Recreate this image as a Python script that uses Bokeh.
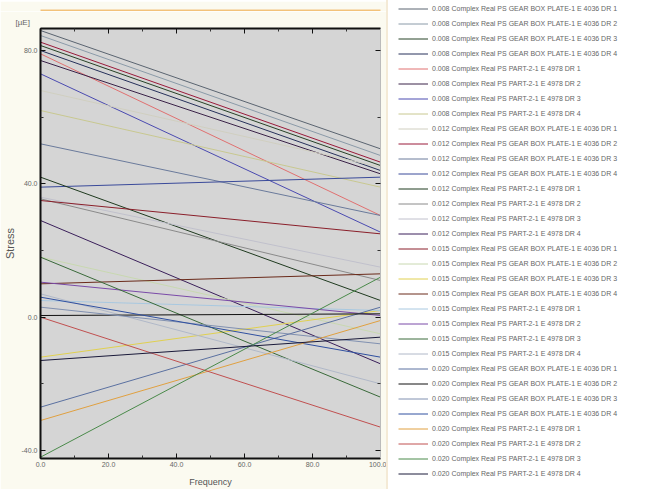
from bokeh.plotting import figure
from bokeh.layouts import row, column
from bokeh.models import (Legend, LegendItem, LinearAxis, Range1d, FixedTicker,
                          NumeralTickFormatter)
from bokeh.embed import file_html
from bokeh.resources import INLINE

# ---- data ----
freq = [0.0, 100.0]
times = ["0.008", "0.012", "0.015", "0.020"]
parts = ["GEAR BOX PLATE-1 E 4036", "PART-2-1 E 4978"]
drs = ["1", "2", "3", "4"]

stress_start = [86.0, 84.5, 81.5, 80.0, 79.0, 77.0, 73.0, 62.0,
                68.0, 82.5, 52.0, 39.0, 42.0, 35.5, 36.0, 29.0,
                35.0, 18.0, -12.0, 10.0, 5.0, 10.5, 18.0, 7.0,
                -27.0, 0.5, 3.0, 6.0, -31.0, 0.0, -42.0, -13.0]
stress_end = [50.5, 48.5, 45.5, 44.0, 30.5, 43.0, 25.5, 39.0,
              45.0, 46.5, 30.5, 42.0, 5.0, 11.0, 15.0, -14.0,
              25.0, -5.0, 2.0, 13.0, 2.0, 0.5, -24.0, -20.0,
              3.0, 1.0, -8.0, -12.0, -1.0, -33.0, 12.0, -6.0]
colors = ["#5a6470", "#8a9aa8", "#274227", "#26305a", "#e07070", "#3a2248", "#4a4ab0", "#c8c890",
          "#d0cfc0", "#9a1a3a", "#6a7a9b", "#3a4a9a", "#1f3a1f", "#8a8a8a", "#c0c0cc", "#3a1f5a",
          "#8a1f2a", "#c8d8b0", "#e0d050", "#6a2a1a", "#a8c8e0", "#7a4aa8", "#3a6a3a", "#b0b8c8",
          "#5a70a0", "#101010", "#8090b0", "#3050a0", "#e0a040", "#c05050", "#4a8a4a", "#1a1a3a"]

names = []
for t in times:
    for part in parts:
        for d in drs:
            names.append(f"{t} Complex Real PS {part} DR {d}")

x_ticks = [0, 20, 40, 60, 80, 100]
x_minor = [10, 30, 50, 70, 90]
y_ticks = [-40, 0, 40, 80]
y_minor = [-20, 20, 60]

# ---- orange window edge strip above the chart ----
strip = figure(width=386, height=11, output_backend="svg", toolbar_location=None,
               x_axis_location=None, y_axis_location=None,
               min_border_left=5, min_border_right=0, min_border_top=8, min_border_bottom=0,
               background_fill_color="#f2c27a", border_fill_color="#fbfaf0",
               outline_line_color=None)
strip.grid.visible = False

# ---- chart ----
p = figure(width=386, height=478, output_backend="svg", toolbar_location=None,
           x_range=Range1d(0, 100), y_range=Range1d(-42.4, 86.6),
           min_border_left=38, min_border_right=6, min_border_top=17, min_border_bottom=30,
           background_fill_color="#d5d5d5", border_fill_color="#fbfaf0",
           outline_line_color="#222222", outline_line_width=1)
p.grid.visible = False

for i in range(len(names)):
    p.line(freq, [stress_start[i], stress_end[i]], line_color=colors[i], line_width=1)

def style_axis(ax, ticks, minor, show_labels=True, width=2):
    ax.ticker = FixedTicker(ticks=ticks, minor_ticks=minor)
    ax.formatter = NumeralTickFormatter(format="0.0")
    ax.major_tick_in = 5
    ax.major_tick_out = 0
    ax.minor_tick_in = 3
    ax.minor_tick_out = 0
    ax.axis_line_color = "#111111"
    ax.axis_line_width = width
    ax.major_tick_line_color = "#111111"
    ax.minor_tick_line_color = "#333333"
    ax.major_label_text_font = "Liberation Sans"
    ax.major_label_text_font_size = "7px" if show_labels else "0px"
    ax.major_label_text_color = "#666666" if show_labels else None
    ax.major_label_standoff = 3 if show_labels else 0

style_axis(p.xaxis[0], x_ticks, x_minor)
style_axis(p.yaxis[0], y_ticks, y_minor)
p.xaxis[0].axis_label = "Frequency"
p.xaxis[0].axis_label_text_font = "Liberation Sans"
p.xaxis[0].axis_label_text_font_size = "9px"
p.xaxis[0].axis_label_text_font_style = "normal"
p.xaxis[0].axis_label_text_color = "#555555"
p.xaxis[0].axis_label_standoff = 7
p.yaxis[0].axis_label = "Stress"
p.yaxis[0].axis_label_text_font = "Liberation Sans"
p.yaxis[0].axis_label_text_font_size = "11px"
p.yaxis[0].axis_label_text_font_style = "normal"
p.yaxis[0].axis_label_text_color = "#555555"
p.yaxis[0].axis_label_standoff = 3

top_ax = LinearAxis()
style_axis(top_ax, x_ticks, x_minor, show_labels=False, width=2)
right_ax = LinearAxis()
style_axis(right_ax, y_ticks, y_minor, show_labels=False, width=1)
right_ax.axis_line_color = "#bbbbbb"
p.add_layout(top_ax, "above")
p.add_layout(right_ax, "right")

p.title.text = "[µE]"
p.title.text_font = "Liberation Sans"
p.title.text_font_size = "8px"
p.title.text_font_style = "normal"
p.title.text_color = "#666666"
p.title.align = "left"
p.title.offset = -25
p.title.standoff = 3

# ---- legend panel ----
q = figure(width=254, height=489, output_backend="svg", toolbar_location=None,
           x_range=Range1d(1000, 1001), y_range=Range1d(-42.4, 86.6),
           x_axis_location=None, y_axis_location=None,
           min_border_left=0, min_border_right=0, min_border_top=0, min_border_bottom=0,
           background_fill_color="#ffffff", border_fill_color="#ffffff",
           outline_line_color=None)
q.grid.visible = False

items = []
for i, nm in enumerate(names):
    r = q.line(freq, [stress_start[i], stress_end[i]], line_color=colors[i], line_width=1)
    items.append(LegendItem(label=nm, renderers=[r]))

legend = Legend(items=items, location=(0, -4), orientation="vertical",
                label_text_font="Liberation Sans", label_text_font_size="7px",
                label_text_color="#666666", glyph_width=30, glyph_height=15,
                label_height=15, label_width=230, spacing=0, label_standoff=4,
                padding=10, margin=0, background_fill_color="#ffffff",
                background_fill_alpha=1.0, border_line_color="#ead6ae",
                border_line_width=2)
q.add_layout(legend, "center")

open("out.html", "w").write(file_html(row(column(strip, p), q), INLINE))
